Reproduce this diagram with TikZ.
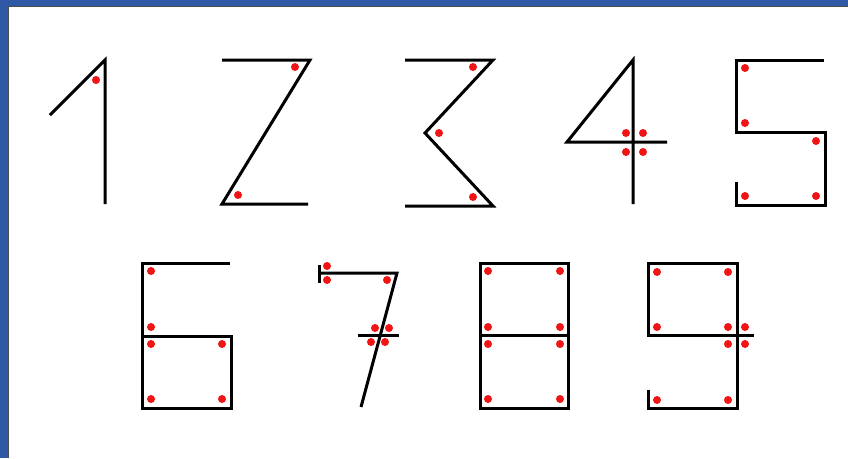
\documentclass[tikz,border=0pt]{standalone}
\definecolor{frameblue}{RGB}{48,89,165}
\definecolor{dotred}{RGB}{240,20,20}
\begin{document}
\begin{tikzpicture}[x=1pt,y=-1pt,
  stroke/.style={line width=3pt,line join=miter,line cap=butt},
  dot/.style={fill=dotred}]
\useasboundingbox (0,0) rectangle (848,458);
\fill[white] (0,0) rectangle (848,458);
\fill[frameblue] (0,0) rectangle (848,6);
\fill[frameblue] (0,0) rectangle (8,458);
\draw[line width=0.8pt,black!70] (8,458) -- (8,6) -- (848,6);
% 1
\draw[stroke] (50,115) -- (105,60) -- (105,204);
\fill[dot] (96,80) circle (4);
% 2
\draw[stroke] (222,60) -- (310,60) -- (222,204) -- (308,204);
\fill[dot] (295,67) circle (4);
\fill[dot] (238,195) circle (4);
% 3
\draw[stroke] (405,60) -- (493,60) -- (425,133) -- (493,206) -- (405,206);
\fill[dot] (473,67) circle (4);
\fill[dot] (439,133) circle (4);
\fill[dot] (473,197) circle (4);
% 4
\draw[stroke] (633,204) -- (633,60) -- (567,142) -- (667,142);
\foreach \p in {(626,133),(643,133),(626,152),(643,152)} \fill[dot] \p circle (4);
% 5
\draw[stroke] (824,60) -- (736,60) -- (736,132) -- (825,132) -- (825,205) -- (736,205) -- (736,182);
\foreach \p in {(745,68),(745,123),(816,141),(745,196),(816,196)} \fill[dot] \p circle (4);
% 6
\draw[stroke] (230,263) -- (142,263) -- (142,408) -- (231,408) -- (231,336) -- (142,336);
\foreach \p in {(151,271),(151,327),(151,344),(222,344),(151,399),(222,399)} \fill[dot] \p circle (4);
% 7
\draw[stroke] (319,273) -- (397,273) -- (361,407);
\draw[stroke] (319,265) -- (319,283);
\draw[stroke] (358,335) -- (399,335);
\foreach \p in {(327,266),(327,280),(387,280),(375,328),(389,328),(371,342),(385,342)} \fill[dot] \p circle (4);
% 8
\draw[stroke] (480,263) rectangle (568,408);
\draw[stroke] (480,335) -- (568,335);
\foreach \x in {488,560} \foreach \y in {271,327,344,399} \fill[dot] (\x,\y) circle (4);
% 9
\draw[stroke] (754,335) -- (648,335) -- (648,263) -- (737,263) -- (737,408) -- (648,408) -- (648,390);
\foreach \p in {(657,272),(728,272),(657,327),(728,327),(745,327),(728,344),(745,344),(657,400),(728,400)} \fill[dot] \p circle (4);
\end{tikzpicture}
\end{document}
